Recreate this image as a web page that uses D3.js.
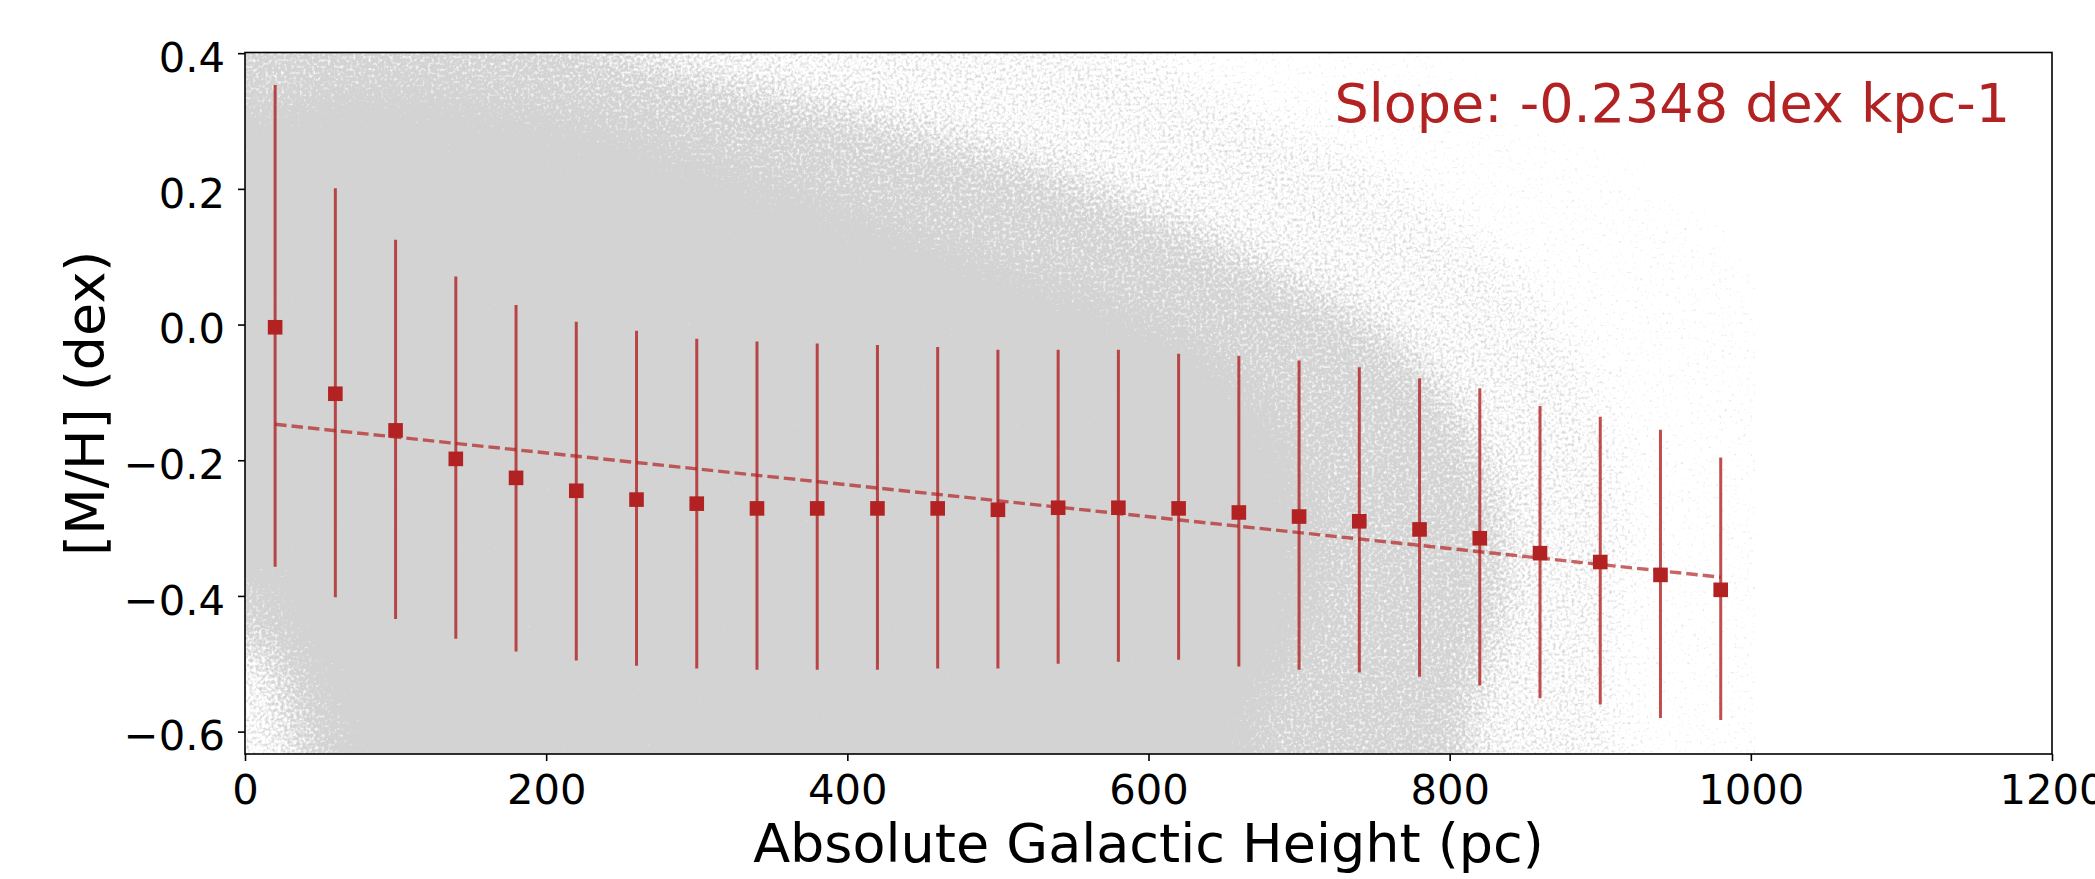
<!DOCTYPE html>
<html>
<head>
<meta charset="utf-8">
<script src="https://cdn.jsdelivr.net/npm/d3@7"></script>
<style>
	body { margin: 0; background: #fff; }
	svg { display: block; font-family: 'DejaVu Sans', sans-serif; }
</style>
</head>
<body>
<div id="chart"></div>
<script>
// binned metallicity vs height above the plane

var heights = [20, 60, 100, 140, 180, 220, 260, 300, 340, 380, 420, 460, 500,
	540, 580, 620, 660, 700, 740, 780, 820, 860, 900, 940, 980];
var meanMH = [-0.004, -0.102, -0.156, -0.198, -0.226, -0.245, -0.258, -0.264, -0.271, -0.271, -0.271, -0.271, -0.273,
	-0.270, -0.270, -0.271, -0.277, -0.283, -0.290, -0.302, -0.315, -0.337, -0.350, -0.369, -0.391];
var upperMH = [0.353, 0.201, 0.125, 0.071, 0.029, 0.004, -0.009, -0.021, -0.025, -0.028, -0.030, -0.033, -0.037,
	-0.037, -0.037, -0.043, -0.046, -0.053, -0.063, -0.079, -0.094, -0.120, -0.136, -0.155, -0.196];
var lowerMH = [-0.357, -0.402, -0.434, -0.463, -0.482, -0.495, -0.503, -0.507, -0.509, -0.509, -0.509, -0.507, -0.507,
	-0.500, -0.497, -0.494, -0.504, -0.509, -0.513, -0.519, -0.532, -0.551, -0.560, -0.580, -0.583];

var fitSlope = -0.2348; // dex per kpc
var fitIntercept = -0.1423;

var xTicks = [0, 200, 400, 600, 800, 1000, 1200];
var yTicks = [-0.6, -0.4, -0.2, 0.0, 0.2, 0.4];

var sparseEdge = [[-50, 0.5], [780, 0.5], [815, 0.354], [933, 0.22], [1000, 0.1],
	[1000, -0.75], [-50, -0.75]];
var lightEdge = [[-50, 0.5], [500, 0.5], [600, 0.40], [700, 0.30], [780, 0.20], [860, 0.05],
	[900, -0.1], [920, -0.3], [910, -0.5], [900, -0.75], [-50, -0.75]];
var mediumEdge = [[-50, 0.5], [150, 0.5], [250, 0.40], [350, 0.34], [450, 0.28], [540, 0.22],
	[604, 0.16], [680, 0.08], [760, -0.02], [815, -0.17], [837, -0.37], [815, -0.57], [800, -0.75],
	[60, -0.75], [30, -0.6], [10, -0.48], [-50, -0.45]];
var denseEdge = [[-50, 0.27], [10, 0.30], [80, 0.33], [160, 0.31], [235, 0.28], [300, 0.23],
	[370, 0.18], [440, 0.12], [510, 0.065], [580, 0.01], [640, -0.06], [668, -0.12], [692, -0.2],
	[700, -0.37], [690, -0.47], [665, -0.57], [645, -0.75], [90, -0.75],
	[65, -0.58], [40, -0.47], [22, -0.40], [8, -0.36], [-50, -0.33]];
// layer opacities, stacked: about 0.15, 0.35, 0.68, 1
var cloudLevels = [0.15, 0.235, 0.51, 1];

var width = 2095,
	height = 879,
	margin = {
		top: 52.5,
		bottom: 125,
		left: 245,
		right: 43,
	};

var red = '#b22222',
	cloud = '#d3d3d3';

var svg = d3.select('#chart').append('svg')
	.attr('width', width)
	.attr('height', height);

var xScale = d3.scaleLinear()
	.domain([0, 1200])
	.range([margin.left, width - margin.right]);

var yScale = d3.scaleLinear()
	.domain([-0.633, 0.401])
	.range([height - margin.bottom, margin.top]);

var defs = svg.append('defs');

defs.append('clipPath').attr('id', 'plotClip')
	.append('rect')
	.attr('x', xScale(0))
	.attr('y', margin.top)
	.attr('width', xScale(1003) - xScale(0))
	.attr('height', height - margin.top - margin.bottom);

// density -> speckled grey, like an overplotted scatter
var filter = defs.append('filter')
	.attr('id', 'speckle')
	.attr('filterUnits', 'userSpaceOnUse')
	.attr('x', -200).attr('y', -200)
	.attr('width', width + 400).attr('height', height + 400)
	.attr('color-interpolation-filters', 'sRGB');
filter.append('feGaussianBlur')
	.attr('in', 'SourceAlpha')
	.attr('stdDeviation', 22)
	.attr('result', 'dens');
filter.append('feTurbulence')
	.attr('type', 'fractalNoise')
	.attr('baseFrequency', 0.32)
	.attr('numOctaves', 2)
	.attr('seed', 7)
	.attr('result', 'noise');
filter.append('feComposite')
	.attr('in', 'dens').attr('in2', 'noise')
	.attr('operator', 'arithmetic')
	.attr('k1', 0).attr('k2', 2.5).attr('k3', 2.5).attr('k4', -2)
	.attr('result', 'mask');
filter.append('feFlood')
	.attr('flood-color', cloud)
	.attr('result', 'col');
filter.append('feComposite')
	.attr('in', 'col').attr('in2', 'mask')
	.attr('operator', 'in');

var outline = d3.line()
	.x(function(d) { return xScale(d[0]); })
	.y(function(d) { return yScale(d[1]); })
	.curve(d3.curveCatmullRomClosed);

var cloudLayer = svg.append('g')
	.attr('clip-path', 'url(#plotClip)')
	.append('g')
	.attr('filter', 'url(#speckle)');

cloudLayer.selectAll('path')
	.data([sparseEdge, lightEdge, mediumEdge, denseEdge])
	.enter().append('path')
	.attr('d', outline)
	.attr('fill', '#000')
	.attr('fill-opacity', function(d, i) { return cloudLevels[i]; });

// fit line
var fitLine = d3.line()
	.x(function(d) { return xScale(d); })
	.y(function(d) { return yScale(fitIntercept + fitSlope * d / 1000); });

var bins = heights.map(function(h, i) {
	return {h: h, mean: meanMH[i], hi: upperMH[i], lo: lowerMH[i]};
});

svg.append('g').selectAll('line')
	.data(bins)
	.enter().append('line')
	.attr('x1', function(d) { return xScale(d.h); })
	.attr('x2', function(d) { return xScale(d.h); })
	.attr('y1', function(d) { return yScale(d.lo); })
	.attr('y2', function(d) { return yScale(d.hi); })
	.attr('stroke', red)
	.attr('stroke-opacity', 0.8)
	.attr('stroke-width', 3);

svg.append('path')
	.attr('d', fitLine([heights[0], heights[heights.length - 1]]))
	.attr('fill', 'none')
	.attr('stroke', red)
	.attr('stroke-opacity', 0.7)
	.attr('stroke-width', 3.4)
	.attr('stroke-dasharray', '11.5,5');

var sq = 14.6;
svg.append('g').selectAll('rect')
	.data(bins)
	.enter().append('rect')
	.attr('x', function(d) { return xScale(d.h) - sq / 2; })
	.attr('y', function(d) { return yScale(d.mean) - sq / 2; })
	.attr('width', sq)
	.attr('height', sq)
	.attr('fill', red);

// axes
var xAxis = d3.axisBottom(xScale)
	.tickValues(xTicks)
	.tickSize(7)
	.tickPadding(13.4)
	.tickFormat(d3.format('d'));

var yAxis = d3.axisLeft(yScale)
	.tickValues(yTicks)
	.tickSize(7)
	.tickPadding(13)
	.tickFormat(d3.format('.1f'));

var xAxisLabel = svg.append('g')
	.attr('transform', 'translate(0,' + (height - margin.bottom) + ')')
	.call(xAxis);

var yAxisLabel = svg.append('g')
	.attr('transform', 'translate(' + margin.left + ',0)')
	.call(yAxis);

[xAxisLabel, yAxisLabel].forEach(function(a) {
	a.select('.domain').remove();
	a.selectAll('.tick line').attr('stroke', '#000').attr('stroke-width', 1.6);
	a.selectAll('.tick text')
		.attr('fill', '#000')
		.attr('font-size', 41.7)
		.attr('font-family', 'DejaVu Sans');
});
yAxisLabel.selectAll('.tick text').attr('dy', '0.44em');

svg.append('rect')
	.attr('x', margin.left)
	.attr('y', margin.top)
	.attr('width', width - margin.left - margin.right)
	.attr('height', height - margin.top - margin.bottom)
	.attr('fill', 'none')
	.attr('stroke', '#000')
	.attr('stroke-width', 1.6);

svg.append('text')
	.attr('transform', 'translate(' + ((margin.left + width - margin.right) / 2) + ',862)')
	.attr('text-anchor', 'middle')
	.attr('font-size', 54)
	.attr('fill', '#000')
	.text('Absolute Galactic Height (pc)');

svg.append('text')
	.attr('transform', 'translate(104,' + ((margin.top + height - margin.bottom) / 2) + ') rotate(-90)')
	.attr('text-anchor', 'middle')
	.attr('font-size', 54)
	.attr('fill', '#000')
	.text('[M/H] (dex)');

svg.append('text')
	.attr('x', 2010)
	.attr('y', 121.7)
	.attr('text-anchor', 'end')
	.attr('font-size', 54)
	.attr('fill', red)
	.text('Slope: -0.2348 dex kpc-1');
</script>
</body>
</html>
